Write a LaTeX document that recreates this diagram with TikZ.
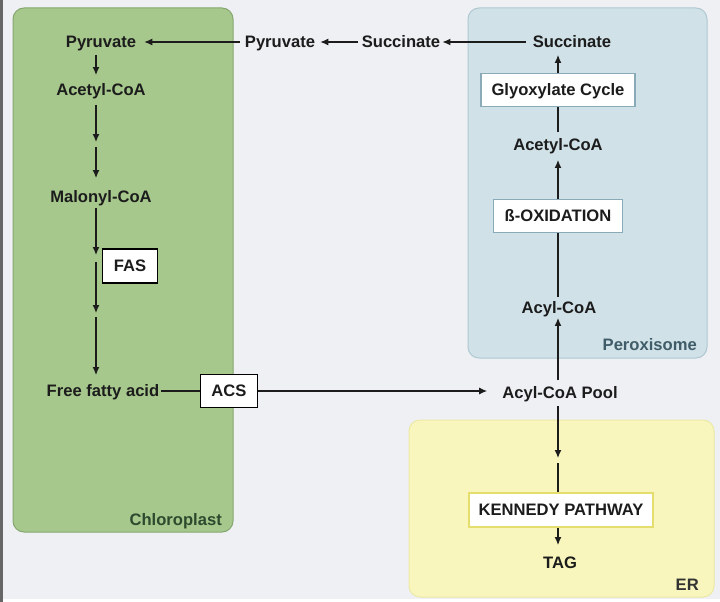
\documentclass[tikz,border=0pt]{standalone}
\usepackage{fontspec}
\setmainfont{Liberation Sans}
\usetikzlibrary{arrows.meta}
\definecolor{bgc}{HTML}{EEF0F4}
\definecolor{chlfill}{HTML}{A6C88C}
\definecolor{chldraw}{HTML}{86A870}
\definecolor{perfill}{HTML}{D0E2E8}
\definecolor{perdraw}{HTML}{AFC8D1}
\definecolor{erfill}{HTML}{F8F6BD}
\definecolor{erdraw}{HTML}{ECE9A6}
\definecolor{ink}{HTML}{1C1C1C}
\definecolor{chltxt}{HTML}{2E4A2E}
\definecolor{pertxt}{HTML}{3F5C68}
\definecolor{ertxt}{HTML}{333333}
\definecolor{bluebox}{HTML}{8AAAB8}
\definecolor{yelbox}{HTML}{E4DE6E}
\begin{document}
\begin{tikzpicture}[x=1pt,y=-1pt,
  every node/.style={font=\fontsize{16.6}{19}\selectfont\bfseries, text=ink},
  lbl/.style={inner sep=2pt, text height=11.5pt, text depth=0pt},
  blackbox/.style={draw=black, line width=1.6pt, fill=white, inner sep=0pt, text height=11.5pt, text depth=0pt},
  bluebx/.style={draw=bluebox, line width=1.3pt, fill=white, inner sep=0pt, text height=11.5pt, text depth=0pt},
  yelbx/.style={draw=yelbox, line width=1.3pt, fill=white, inner sep=0pt, text height=11.5pt, text depth=0pt},
  compart/.style={rounded corners=11pt, line width=1pt},
  arr/.style={draw=ink, line width=1.3pt, -{Latex[length=8pt,width=7pt]}},
  ln/.style={draw=ink, line width=1.3pt},
  region/.style={anchor=east, inner sep=0pt, text height=11.5pt, text depth=0pt}
]
\useasboundingbox (0,0) rectangle (720,602);
\fill[bgc] (0,0) rectangle (720,602);
\fill[white] (0,599) rectangle (720,602);
\fill[black!60] (0,0) rectangle (3,602);

% compartments
\draw[compart, fill=chlfill, draw=chldraw] (13,8) rectangle (233,532);
\draw[compart, fill=perfill, draw=perdraw] (468,8) rectangle (707,358);
\draw[compart, fill=erfill, draw=erdraw] (409,420) rectangle (714,597);

\node[region, text=chltxt] (lchl) at (222,520) {Chloroplast};
\node[region, text=pertxt] (lper) at (697,345) {Peroxisome};
\node[region, text=ertxt] (ler) at (699,585) {ER};

% chloroplast column
\coordinate (colx) at (96,0);
\node[lbl] (pyrL) at (101,42) {Pyruvate};
\node[lbl] (acoL) at (101,90) {Acetyl-CoA};
\node[lbl] (malL) at (101,197) {Malonyl-CoA};
\node[blackbox, minimum width=55pt, minimum height=34pt] (fas) at (130,266) {FAS};
\node[lbl] (ffa) at (103,391) {Free fatty acid};
\node[blackbox, minimum width=57pt, minimum height=33pt] (acs) at (229,391) {ACS};

\coordinate (g1) at (96,142);
\coordinate (g1s) at (96,147);
\coordinate (g2) at (96,255);
\coordinate (g2s) at (96,262);
\coordinate (g3) at (96,313);
\coordinate (g3s) at (96,317);

\draw[arr, shorten <=5pt, shorten >=7pt] (pyrL.south -| colx) -- (acoL.north -| colx);
\draw[arr, shorten <=7pt] (acoL.south -| colx) -- (g1);
\draw[arr, shorten >=11pt] (g1s) -- (malL.north -| colx);
\draw[arr, shorten <=3pt] (malL.south -| colx) -- (g2);
\draw[arr] (g2s) -- (g3);
\draw[arr, shorten >=8pt] (g3s) -- (ffa.north -| colx);

% top row
\node[lbl] (pyrM) at (280,42) {Pyruvate};
\node[lbl] (sucM) at (401,42) {Succinate};
\node[lbl] (sucP) at (572,42) {Succinate};

\draw[arr, shorten <=3pt, shorten >=6pt] (pyrM.west) -- (pyrL.east);
\draw[arr, shorten <=2pt, shorten >=3pt] (sucM.west) -- (pyrM.east);
\draw[arr, shorten <=5pt] (sucP.west) -- (sucM.east);

% peroxisome column
\node[bluebx, minimum width=154pt, minimum height=33pt] (glyox) at (558,90) {Glyoxylate Cycle};
\node[lbl] (acoP) at (558,145) {Acetyl-CoA};
\node[bluebx, minimum width=129pt, minimum height=33pt] (box) at (558,216) {ß-OXIDATION};
\node[lbl] (acylP) at (559,308) {Acyl-CoA};
\node[lbl] (pool) at (560,393) {Acyl-CoA Pool};

\draw[arr, shorten >=5pt] (glyox.north) -- (glyox.north |- sucP.south);
\draw[ln, shorten <=5pt] (acoP.north -| glyox.south) -- (glyox.south);
\draw[arr, shorten >=7pt] (box.north) -- (box.north |- acoP.south);
\draw[ln, shorten <=3pt] (acylP.north -| box.south) -- (box.south);
\draw[arr, shorten <=5pt, shorten >=2pt] (pool.north -| box.south) -- (acylP.south -| box.south);

\draw[ln] (ffa.east) -- (acs.west);
\draw[arr, shorten >=13pt] (acs.east) -- (acs.east -| pool.west);

% ER
\node[yelbx, minimum width=184pt, minimum height=34pt] (ken) at (561,510) {KENNEDY PATHWAY};
\node[lbl] (tag) at (560,563) {TAG};
\coordinate (g4) at (558,458);
\coordinate (g4s) at (558,463);

\draw[arr, shorten <=5pt] (pool.south -| g4) -- (g4);
\draw[ln] (g4s) -- (g4s |- ken.north);
\draw[arr, shorten >=10pt] (ken.south -| g4) -- (tag.north -| g4);
\end{tikzpicture}
\end{document}
